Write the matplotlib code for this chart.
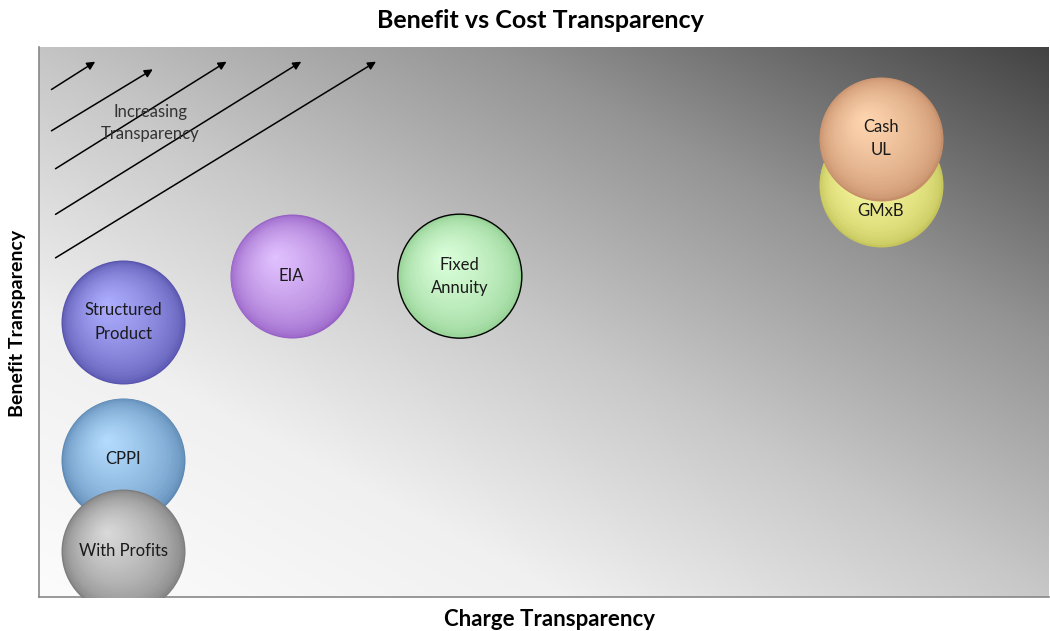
import numpy as np
import matplotlib.pyplot as plt
from matplotlib.transforms import offset_copy
from matplotlib.colors import to_rgb

plt.rcParams['font.family'] = ['Lato', 'DejaVu Sans']

# bubble data (x = charge transparency, y = benefit transparency)
products = ['CPPI', 'With Profits', 'Structured\nProduct', 'EIA', 'Fixed\nAnnuity', 'GMxB', 'Cash\nUL']
charge = [1, 1, 1, 3, 5, 10, 10]
benefit = [3, 1, 6, 7, 7, 9, 10]
edge_cols = ['#5e8ab5', '#7e7e7e', '#5955af', '#9761c6', '#92d092', '#c6c65c', '#c68f6a']
high_cols = ['#b4dcff', '#dadada', '#aeaeff', '#e2c2ff', '#dcffdc', '#ffffa8', '#ffd6b0']
label_dy = [0, 0, 0, 0, 0, -19, 0]  # label shift in points

fig = plt.figure(figsize=(10.5, 6.31), dpi=100)
ax = fig.add_axes([39 / 1050, 1 - 597 / 631, 1010 / 1050, 550 / 631])
ax.set_xlim(0, 12)
ax.set_ylim(0, 12)

# diagonal grey gradient background (darkens toward top right)
gx, gy = np.meshgrid(np.linspace(0, 1010, 400), np.linspace(0, 550, 250))
u = gx + 1.9 * gy
dark = np.interp(u, [0, 532, 1010, 1497, 2055], [0, 12, 52, 104, 185])
bg = (252 - dark) / 255.0
ax.imshow(np.dstack([bg, bg, bg]), extent=[0, 12, 0, 12], origin='lower',
          aspect='auto', zorder=0, interpolation='bilinear')

# shaded spheres made from stacked circles
D = 124 * 72 / 100  # marker diameter in points
n = 45
for k in range(len(products)):
    e = np.array(to_rgb(edge_cols[k]))
    h = np.array(to_rgb(high_cols[k]))
    for i in range(n):
        t = i / n
        d = D * (1 - t)
        off = offset_copy(ax.transData, fig=fig, x=-0.28 * D / 2 * t, y=0.32 * D / 2 * t, units='points')
        c = e + (h - e) * t ** 0.55
        ax.scatter([charge[k]], [benefit[k]], s=d ** 2, color=c, transform=off,
                   zorder=2 + k + i / n, linewidths=0)
    if products[k] == 'Fixed\nAnnuity':
        ax.scatter([charge[k]], [benefit[k]], s=D ** 2, facecolor='none',
                   edgecolor='black', linewidths=1.0, zorder=3 + k)
    lab = offset_copy(ax.transData, fig=fig, x=0, y=label_dy[k], units='points')
    ax.text(charge[k], benefit[k], products[k], transform=lab, ha='center', va='center',
            fontsize=12, color='#1a1a1a', linespacing=1.55, zorder=3 + k)

# "increasing transparency" arrows
arrows = [((0.010, 0.920), (0.058, 0.976)),
          ((0.010, 0.845), (0.115, 0.962)),
          ((0.014, 0.776), (0.188, 0.976)),
          ((0.014, 0.693), (0.262, 0.976)),
          ((0.014, 0.614), (0.336, 0.976))]
for a, b in arrows:
    ax.annotate('', xy=b, xytext=a, xycoords='axes fraction', textcoords='axes fraction',
                arrowprops=dict(arrowstyle='-|>', color='black', lw=1.1, mutation_scale=12),
                zorder=1)
ax.text(0.110, 0.862, 'Increasing\nTransparency', transform=ax.transAxes, ha='center',
        va='center', fontsize=12, color='#333333', linespacing=1.45, zorder=1)

ax.set_xticks([])
ax.set_yticks([])
for s in ['top', 'right']:
    ax.spines[s].set_visible(False)
for s in ['left', 'bottom']:
    ax.spines[s].set_color('#888888')
    ax.spines[s].set_linewidth(1.2)

fig.text(540 / 1050, 1 - 20 / 631, 'Benefit vs Cost Transparency', ha='center', va='center',
         fontsize=18, fontweight='bold')
fig.text(549 / 1050, 1 - 619 / 631, 'Charge Transparency', ha='center', va='center',
         fontsize=16, fontweight='bold')
fig.text(18 / 1050, 1 - 323 / 631, 'Benefit Transparency', ha='center', va='center',
         fontsize=14, fontweight='bold', rotation=90)

fig.savefig('out.png', dpi=100)
